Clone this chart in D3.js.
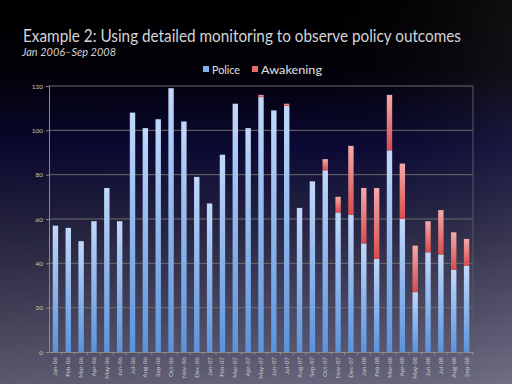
<html>
  <body style="margin:0">
    <script src="https://d3js.org/d3.v7.min.js"></script>
    <div id="main"></div>
    <script>
      // Data
      const months = ["Jan-06","Feb-06","Mar-06","Apr-06","May-06","Jun-06","Jul-06","Aug-06","Sep-06","Oct-06","Nov-06","Dec-06",
        "Jan-07","Feb-07","Mar-07","Apr-07","May-07","Jun-07","Jul-07","Aug-07","Sep-07","Oct-07","Nov-07","Dec-07",
        "Jan-08","Feb-08","Mar-08","Apr-08","May-08","Jun-08","Jul-08","Aug-08","Sep-08"];
      const police = [57,56,50,59,74,59,108,101,105,119,104,79,
        67,89,112,101,115,109,111,65,77,82,63,62,
        49,42,91,60,27,45,44,37,39];
      const awakening = [0,0,0,0,0,0,0,0,0,0,0,0,
        0,0,0,0,1,0,1,0,0,5,7,31,
        25,32,25,25,21,14,20,17,12];
      const yTicks = [0,20,40,60,80,100,120];

      const W = 512, H = 384;
      const margin = {left: 49, right: 39, top: 86, bottom: 32};
      const font = "Lato, 'Open Sans', sans-serif";

      const svg = d3.select("#main").append("svg")
        .attr("width", W).attr("height", H)
        .style("display", "block");

      const defs = svg.append("defs");
      const bg = defs.append("linearGradient").attr("id", "bg")
        .attr("x1", 0).attr("y1", 0).attr("x2", 0).attr("y2", 1);
      bg.append("stop").attr("offset", "0%").attr("stop-color", "#000000");
      bg.append("stop").attr("offset", "18%").attr("stop-color", "#020108");
      bg.append("stop").attr("offset", "38%").attr("stop-color", "#0b0933");
      bg.append("stop").attr("offset", "62%").attr("stop-color", "#2b2946");
      bg.append("stop").attr("offset", "100%").attr("stop-color", "#67657c");

      const side = defs.append("linearGradient").attr("id", "side")
        .attr("x1", 0).attr("y1", 0).attr("x2", 1).attr("y2", 0);
      side.append("stop").attr("offset", "0%").attr("stop-color", "#000").attr("stop-opacity", 0.12);
      side.append("stop").attr("offset", "60%").attr("stop-color", "#000").attr("stop-opacity", 0);
      side.append("stop").attr("offset", "100%").attr("stop-color", "#fff").attr("stop-opacity", 0.06);

      const gBlue = defs.append("linearGradient").attr("id", "gBlue")
        .attr("x1", 0).attr("y1", 0).attr("x2", 0).attr("y2", 1);
      gBlue.append("stop").attr("offset", "0%").attr("stop-color", "#c2d8fb");
      gBlue.append("stop").attr("offset", "100%").attr("stop-color", "#5a93dc");

      const gRed = defs.append("linearGradient").attr("id", "gRed")
        .attr("x1", 0).attr("y1", 0).attr("x2", 0).attr("y2", 1);
      gRed.append("stop").attr("offset", "0%").attr("stop-color", "#f4aaaa");
      gRed.append("stop").attr("offset", "100%").attr("stop-color", "#d94c4c");

      svg.append("rect").attr("width", W).attr("height", H).attr("fill", "url(#bg)");
      svg.append("rect").attr("width", W).attr("height", H).attr("fill", "url(#side)");

      // Titles
      svg.append("text")
        .attr("x", 23).attr("y", 42)
        .attr("font-family", font)
        .attr("font-size", 16.5)
        .attr("textLength", 438)
        .attr("lengthAdjust", "spacingAndGlyphs")
        .attr("fill", "#d4d4d4")
        .text("Example 2: Using detailed monitoring to observe policy outcomes");
      svg.append("text")
        .attr("x", 22).attr("y", 56)
        .attr("font-family", font)
        .attr("font-style", "italic")
        .attr("font-size", 11.5)
        .attr("textLength", 94)
        .attr("lengthAdjust", "spacingAndGlyphs")
        .attr("fill", "#d4d4d4")
        .text("Jan 2006\u2013Sep 2008");

      // Legend
      const legend = [
        {name: "Police", fill: "#7fb0ee", x: 203, w: 28},
        {name: "Awakening", fill: "#e86a6a", x: 252, w: 61}
      ];
      const lg = svg.selectAll(".lg").data(legend).join("g").attr("class", "lg");
      lg.append("rect")
        .attr("x", d => d.x).attr("y", 66)
        .attr("width", 6).attr("height", 6)
        .attr("fill", d => d.fill);
      lg.append("text")
        .attr("x", d => d.x + 9).attr("y", 74)
        .attr("font-family", font)
        .attr("font-size", 11)
        .attr("textLength", d => d.w)
        .attr("lengthAdjust", "spacingAndGlyphs")
        .attr("fill", "#e0e0e0")
        .text(d => d.name);

      const x = d3.scaleBand()
        .domain(months)
        .range([margin.left, W - margin.right])
        .paddingInner(0.58).paddingOuter(0.29);
      const y = d3.scaleLinear().domain([0, 120]).range([H - margin.bottom, margin.top]);

      // Grid lines
      svg.append("g")
        .selectAll("line")
        .data(yTicks.slice(1))
        .join("line")
        .attr("x1", margin.left).attr("x2", W - margin.right)
        .attr("y1", d => y(d)).attr("y2", d => y(d))
        .attr("stroke", "#6b6b6b").attr("stroke-width", 1);
      svg.append("line")
        .attr("x1", W - margin.right).attr("x2", W - margin.right)
        .attr("y1", y(120)).attr("y2", y(0))
        .attr("stroke", "#5a5a5a");

      // Bars
      const data = months.map((m, i) => ({m, p: police[i], a: awakening[i]}));
      svg.append("g").selectAll("rect")
        .data(data).join("rect")
        .attr("x", d => x(d.m)).attr("width", x.bandwidth())
        .attr("y", d => y(d.p)).attr("height", d => y(0) - y(d.p))
        .attr("fill", "url(#gBlue)");
      svg.append("g").selectAll("rect")
        .data(data.filter(d => d.a > 0)).join("rect")
        .attr("x", d => x(d.m)).attr("width", x.bandwidth())
        .attr("y", d => y(d.p + d.a)).attr("height", d => y(d.p) - y(d.p + d.a))
        .attr("fill", "url(#gRed)");

      // Y axis
      const yAxis = svg.append("g")
        .attr("transform", `translate(${margin.left},0)`)
        .call(d3.axisLeft(y).tickValues(yTicks).tickSize(3).tickPadding(3));
      yAxis.selectAll("line, path").attr("stroke", "#8a8a8a");
      yAxis.selectAll("text")
        .attr("fill", "#c8c8c8")
        .attr("font-family", font)
        .attr("font-size", 6.5);

      // X axis
      const xAxis = svg.append("g")
        .attr("transform", `translate(0,${y(0)})`)
        .call(d3.axisBottom(x).tickSize(3).tickSizeOuter(0));
      xAxis.select("path").attr("stroke", "#8a8a8a");
      xAxis.selectAll("line").attr("stroke", "#8a8a8a")
        .attr("transform", `translate(${x.step() / 2},0)`);
      xAxis.selectAll("text")
        .attr("fill", "#c8c8c8")
        .attr("font-family", font)
        .attr("font-size", 6.3)
        .attr("text-anchor", "end")
        .attr("dy", "0.32em")
        .attr("transform", "translate(0,5) rotate(-90)")
        .attr("x", 0).attr("y", 0);
    </script>
  </body>
</html>
